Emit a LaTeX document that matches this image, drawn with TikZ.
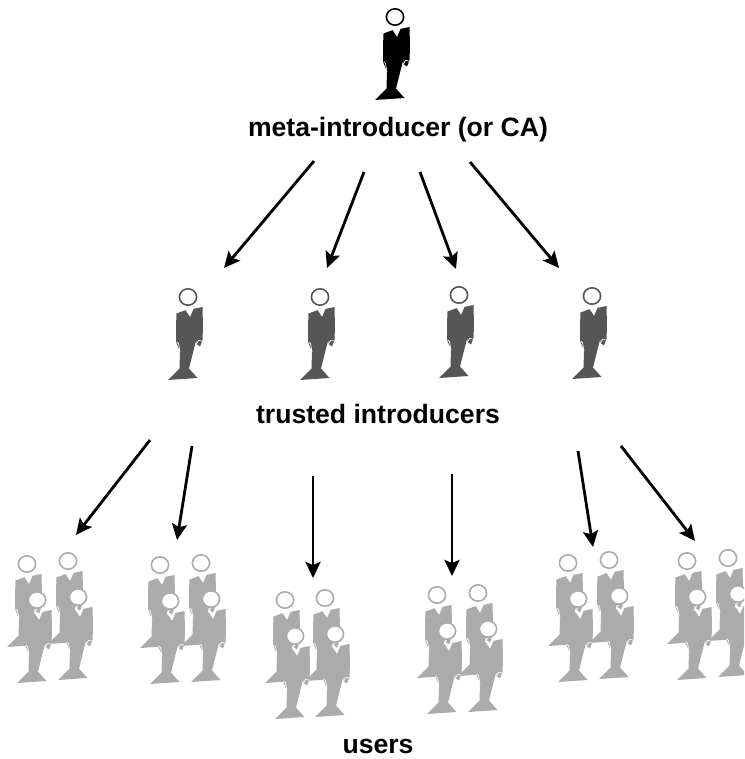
\documentclass[tikz,border=0pt]{standalone}
\usepackage{fontspec}
\setmainfont{Liberation Sans}
\usetikzlibrary{arrows.meta}
\definecolor{bodyuser}{HTML}{ABABAB}
\definecolor{bodymid}{HTML}{565656}
\tikzset{
  x=1pt,y=-1pt,
  lbl/.style={font=\fontsize{26.6}{30}\selectfont\bfseries,inner sep=0pt,anchor=base},
  conn/.style={line width=2.8pt,-{Stealth[length=16pt,width=15pt,inset=3pt]}},
  pics/person/.style n args={2}{code={
    \fill[#1,line join=round]
      (-11.5,16.5) -- (-2,13) -- (2,19) -- (5,12) -- (14.5,10) -- (15,30) -- (14.5,43) -- (12,49.5)
      -- (8.5,47) -- (8.2,43) -- (1,71.5) -- (9.5,81) -- (-20,83) -- (-8.5,71.5) -- (-8,55) -- (-8.5,53)
      -- (-12,45) -- (-12,30) -- cycle;
    \draw[white,line width=0.7pt] (-2,13) -- (2,19) -- (5,12);
    \draw[white,line width=0.7pt] (-11.5,45) -- (-9.5,46.5) -- (-8,55);
    \draw[white,line width=0.7pt] (14,44) -- (10.5,43.5) -- (8.5,47);
    \draw[#1,fill=#2,line width=1.6pt] (0,0) ellipse (8.6 and 8.2);
  }},
  pics/usergroup/.style n args={2}{code={
    \pic at (0,0) {person={bodyuser}{white}};
    \pic at (#1,#2) {person={bodyuser}{white}};
    \pic at (10,36) {person={bodyuser}{white}};
    \pic at (#1+10,#2+36) {person={bodyuser}{white}};
  }},
}
\begin{document}
\begin{tikzpicture}
\useasboundingbox (0,0) rectangle (744,759);
\begin{scope}
\clip (0,0) rectangle (744,759);
\pic at (395,17) {person={black}{white}};
\pic at (188,297) {person={bodymid}{white}};
\pic at (320,297) {person={bodymid}{white}};
\pic at (459,295) {person={bodymid}{white}};
\pic at (592,296) {person={bodymid}{white}};
\pic at (27,564) {usergroup={41}{-3}};
\pic at (160,565) {usergroup={41}{-2}};
\pic at (285,600) {usergroup={40}{-2}};
\pic at (437,595) {usergroup={41}{-2}};
\pic at (568,563) {usergroup={41}{-3}};
\pic at (687,561) {usergroup={41}{-3}};
\end{scope}
\node[lbl] (meta) at (398,137) {meta-introducer (or CA)};
\node[lbl] (trusted) at (378,423) {trusted introducers};
\node[lbl] (users) at (378,753) {users};
\coordinate (a1) at (314,161); \coordinate (b1) at (224,268);
\coordinate (a2) at (364,172); \coordinate (b2) at (327,268);
\coordinate (a3) at (420,172); \coordinate (b3) at (456,269);
\coordinate (a4) at (470,162); \coordinate (b4) at (559,268);
\coordinate (c1) at (150,440); \coordinate (d1) at (76,535);
\coordinate (c2) at (192,446); \coordinate (d2) at (177,540);
\coordinate (c3) at (313,476); \coordinate (d3) at (313,578);
\coordinate (c4) at (452,474); \coordinate (d4) at (452,576);
\coordinate (c5) at (578,451); \coordinate (d5) at (593,547);
\coordinate (c6) at (621,446); \coordinate (d6) at (695,541);
\foreach \i in {1,...,4} \draw[conn] (a\i) -- (b\i);
\foreach \i in {1,...,6} \draw[conn] (c\i) -- (d\i);
\end{tikzpicture}
\end{document}
